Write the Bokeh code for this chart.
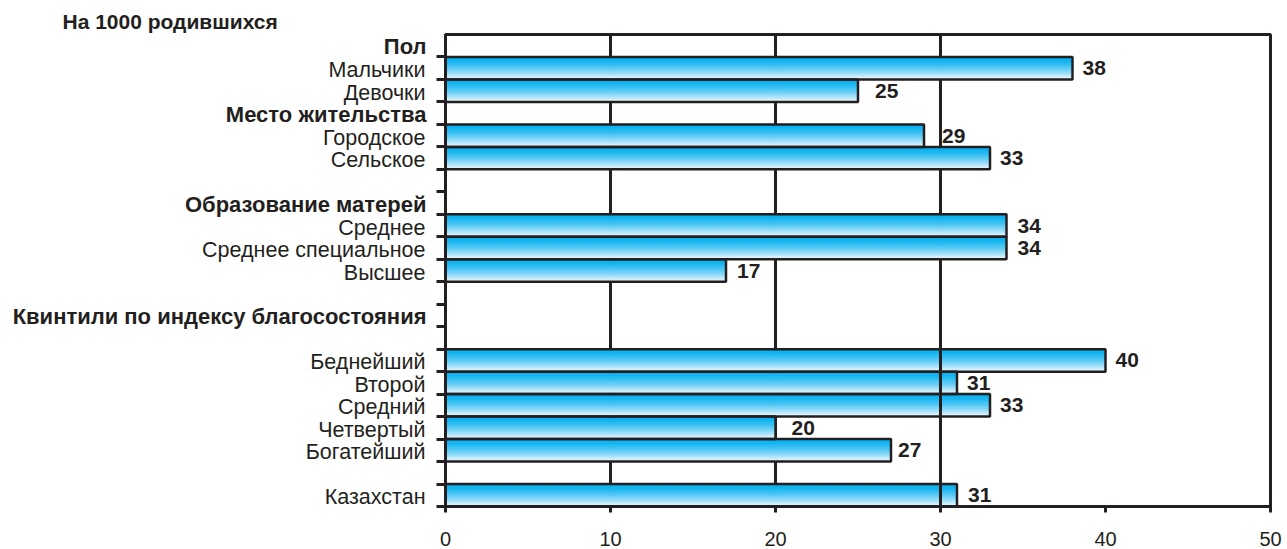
from bokeh.plotting import figure
from bokeh.layouts import row
from bokeh.models import Range1d, FixedTicker, ColumnDataSource
from bokeh.core.properties import value
from bokeh.embed import file_html
from bokeh.resources import INLINE

# ---------------- data ----------------
title_text = "На 1000 родившихся"
rows = ["Пол", "Мальчики", "Девочки", "Место жительства", "Городское", "Сельское", "",
        "Образование матерей", "Среднее", "Среднее специальное", "Высшее", "",
        "Квинтили по индексу благосостояния", "", "Беднейший", "Второй", "Средний",
        "Четвертый", "Богатейший", "", "Казахстан"]
headers = ["Пол", "Место жительства", "Образование матерей", "Квинтили по индексу благосостояния"]
categories = ["Мальчики", "Девочки", "Городское", "Сельское", "Среднее", "Среднее специальное",
              "Высшее", "Беднейший", "Второй", "Средний", "Четвертый", "Богатейший", "Казахстан"]
values = [38, 25, 29, 33, 34, 34, 17, 40, 31, 33, 20, 27, 31]
x_ticks = [0, 10, 20, 30, 40, 50]
grid_ticks = [10, 20, 30]

# style: horizontal pixel gap between each bar end and its value label
label_gap = [10, 17, 18, 10, 11, 11, 11, 10, 10, 10, 16, 7, 11]

FONT = "Liberation Sans"
INK = "#231f20"

W, H = 1287, 549
LEFT_W = 435
TOP, BOTTOM = 34, 43

n_rows = len(rows)
row_top = [rows.index(c) for c in categories]
row_mid = [r + 0.5 for r in row_top]
y_range = Range1d(n_rows, 0)


def style_xaxis(ax, ticks):
    ax.ticker = FixedTicker(ticks=ticks)
    ax.major_tick_in = 0
    ax.major_tick_out = 6
    ax.major_label_text_font = FONT
    ax.major_label_text_font_size = "20px"
    ax.major_label_standoff = 19
    ax.minor_tick_line_color = None


# ---------------- chart ----------------
p = figure(width=W - LEFT_W, height=H,
           x_range=Range1d(x_ticks[0], x_ticks[-1]), y_range=y_range,
           output_backend="svg", toolbar_location=None,
           min_border_left=10, min_border_right=17, min_border_top=TOP, min_border_bottom=BOTTOM)
p.background_fill_color = "white"
p.border_fill_color = "white"
p.outline_line_color = INK
p.outline_line_width = 3

p.ygrid.visible = False
p.xgrid.ticker = FixedTicker(ticks=grid_ticks)
p.xgrid.grid_line_color = INK
p.xgrid.grid_line_width = 3

xa = p.xaxis[0]
style_xaxis(xa, x_ticks)
xa.axis_line_color = INK
xa.axis_line_width = 3
xa.major_tick_line_color = INK
xa.major_tick_line_width = 3
xa.major_label_text_color = INK

ya = p.yaxis[0]
ya.ticker = FixedTicker(ticks=[], minor_ticks=[float(i) for i in range(1, n_rows + 1)])
ya.axis_line_color = INK
ya.axis_line_width = 3
ya.major_tick_line_color = None
ya.major_tick_in = 0
ya.major_tick_out = 0
ya.major_label_standoff = 0
ya.minor_tick_line_color = INK
ya.minor_tick_line_width = 3
ya.minor_tick_in = 0
ya.minor_tick_out = 9

# gradient bars (stacked thin strips)
N = 18
top_c = (0, 174, 239)
bot_c = (240, 249, 254)
for k in range(N):
    t = (k + 0.5) / N
    s = t ** 1.5
    col = "#%02x%02x%02x" % tuple(int(round(a + (b - a) * s)) for a, b in zip(top_c, bot_c))
    src = ColumnDataSource(dict(y=[r + (k + 0.5) / N for r in row_top], right=values))
    p.hbar(y="y", right="right", left=0, height=1.0 / N, source=src,
           fill_color=col, line_color=col, line_width=1)

# bar outlines
bsrc = ColumnDataSource(dict(y=row_mid, right=values, lab=[str(v) for v in values], gap=label_gap))
p.hbar(y="y", right="right", left=0, height=1.0, source=bsrc,
       fill_color=None, line_color=INK, line_width=2.5)

# the 30-line is drawn over the lower bars
p.segment(x0=[grid_ticks[-1]], y0=[rows.index("Беднейший")], x1=[grid_ticks[-1]], y1=[n_rows],
          line_color=INK, line_width=3)

# value labels
p.text(x="right", y="y", text="lab", source=bsrc, x_offset="gap",
       text_align="left", text_baseline="middle",
       text_font=value(FONT), text_font_style="bold", text_font_size="21px", text_color=INK)

# ---------------- label panel ----------------
q = figure(width=LEFT_W, height=H, x_range=Range1d(0, LEFT_W), y_range=y_range,
           output_backend="svg", toolbar_location=None, y_axis_location=None,
           min_border_left=0, min_border_right=0, min_border_top=TOP, min_border_bottom=BOTTOM)
q.outline_line_color = None
q.grid.visible = False
q.background_fill_color = "white"
q.border_fill_color = "white"
qa = q.xaxis[0]
style_xaxis(qa, [LEFT_W / 2])
qa.axis_line_color = None
qa.major_tick_line_color = None
qa.major_label_text_color = None

is_head = [r in headers for r in rows]
plain = ColumnDataSource(dict(y=[i + 0.5 for i, r in enumerate(rows) if r and not is_head[i]],
                              t=[r for i, r in enumerate(rows) if r and not is_head[i]]))
bold = ColumnDataSource(dict(y=[i + 0.5 for i, r in enumerate(rows) if is_head[i]],
                             t=[r for i, r in enumerate(rows) if is_head[i]]))
lab_x = LEFT_W - 10
q.text(x=lab_x, y="y", text="t", source=plain, text_align="right", text_baseline="middle",
       y_offset=2, text_font=value(FONT), text_font_size="21.5px", text_color=INK)
q.text(x=lab_x + 1, y="y", text="t", source=bold, text_align="right", text_baseline="middle",
       y_offset=1, text_font=value(FONT), text_font_style="bold", text_font_size="22px",
       text_color=INK)

q.title.text = title_text
q.title.align = "left"
q.title.offset = 62
q.title.standoff = 4
q.title.text_font = FONT
q.title.text_font_style = "bold"
q.title.text_font_size = "21px"
q.title.text_color = INK

layout = row(q, p)
open("out.html", "w").write(file_html(layout, INLINE))
